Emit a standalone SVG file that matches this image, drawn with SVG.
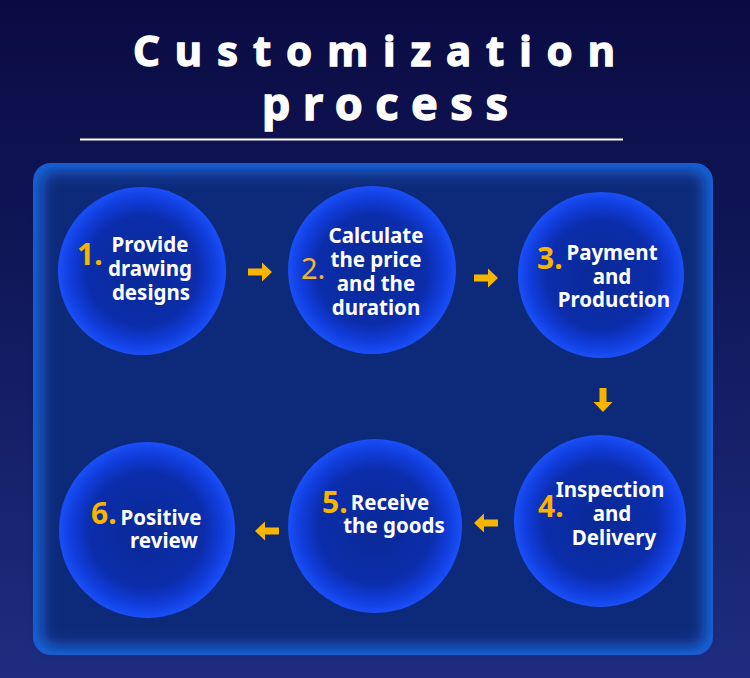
<svg xmlns="http://www.w3.org/2000/svg" width="750" height="678" viewBox="0 0 750 678">
<defs>
  <linearGradient id="bg" x1="0" y1="0" x2="0" y2="1">
    <stop offset="0" stop-color="#0b0b43"/>
    <stop offset="0.35" stop-color="#0f1656"/>
    <stop offset="1" stop-color="#1e2d80"/>
  </linearGradient>
  <radialGradient id="ball" cx="0.5" cy="0.5" r="0.5">
    <stop offset="0" stop-color="#0a2996"/>
    <stop offset="0.65" stop-color="#0b2daa"/>
    <stop offset="0.86" stop-color="#113ddc"/>
    <stop offset="1" stop-color="#1a4ff8"/>
  </radialGradient>
  <filter id="soft" x="-10%" y="-10%" width="120%" height="120%">
    <feGaussianBlur stdDeviation="7"/>
  </filter>
  <path id="arr" d="M-12,-3.5 H2 V-9.5 L12,0 L2,9.5 V3.5 H-12 Z" fill="#f7b500"/>
  <style>
    .t { font-family: "Noto Sans", "Open Sans", "DejaVu Sans", sans-serif; font-weight: bold; font-size: 20.5px; fill: #ffffff; text-anchor: middle; }
    .n { font-family: "Noto Sans", "Open Sans", "DejaVu Sans", sans-serif; font-weight: bold; font-size: 30px; fill: #f7b500; }
    .nr { font-family: "Noto Sans", "Open Sans", "DejaVu Sans", sans-serif; font-weight: normal; font-size: 29px; fill: #f5b52a; }
    .title { font-family: "Noto Sans", "Open Sans", "DejaVu Sans", sans-serif; font-weight: bold; fill: #ffffff; stroke: #ffffff; stroke-width: 1.3; }
  </style>
</defs>

<rect width="750" height="678" fill="url(#bg)"/>

<g id="title">
  <text class="title" x="133" y="66" font-size="42" textLength="482" lengthAdjust="spacing">Customization</text>
  <text class="title" x="262" y="120" font-size="45" textLength="246" lengthAdjust="spacing">process</text>
  <line x1="80" y1="139.5" x2="623" y2="139.5" stroke="#ffffff" stroke-width="2"/>
</g>

<g id="panel">
  <rect x="33" y="163" width="680" height="492" rx="18" fill="#1a62d6"/>
  <rect x="42" y="172" width="662" height="474" rx="12" fill="#082a7a" filter="url(#soft)"/>
</g>

<g id="node1">
  <circle cx="142" cy="271" r="84" fill="url(#ball)"/>
  <text class="n" x="77" y="265">1.</text>
  <text class="t" x="150" y="252">Provide</text>
  <text class="t" x="150" y="276">drawing</text>
  <text class="t" x="151" y="300">designs</text>
</g>

<g id="node2">
  <circle cx="372" cy="270" r="84" fill="url(#ball)"/>
  <text class="nr" x="301" y="279">2.</text>
  <text class="t" x="376" y="243">Calculate</text>
  <text class="t" x="376" y="267">the price</text>
  <text class="t" x="376" y="291">and the</text>
  <text class="t" x="376" y="315">duration</text>
</g>

<g id="node3">
  <circle cx="601" cy="275" r="83" fill="url(#ball)"/>
  <text class="n" x="537" y="269">3.</text>
  <text class="t" x="612" y="260">Payment</text>
  <text class="t" x="612" y="284">and</text>
  <text class="t" x="614" y="307">Production</text>
</g>

<g id="node4">
  <circle cx="600" cy="521" r="86" fill="url(#ball)"/>
  <text class="n" x="538" y="517">4.</text>
  <text class="t" x="610" y="497">Inspection</text>
  <text class="t" x="612" y="521">and</text>
  <text class="t" x="614" y="545">Delivery</text>
</g>

<g id="node5">
  <circle cx="375" cy="526" r="87" fill="url(#ball)"/>
  <text class="n" x="322" y="513">5.</text>
  <text class="t" x="390" y="510">Receive</text>
  <text class="t" x="394" y="533">the goods</text>
</g>

<g id="node6">
  <circle cx="147" cy="530" r="88" fill="url(#ball)"/>
  <text class="n" x="91" y="524">6.</text>
  <text class="t" x="161" y="525">Positive</text>
  <text class="t" x="164" y="548">review</text>
</g>

<g id="connectors">
  <use href="#arr" transform="translate(260,272)"/>
  <use href="#arr" transform="translate(486,278)"/>
  <use href="#arr" transform="translate(603,400) rotate(90)"/>
  <use href="#arr" transform="translate(486,523) rotate(180)"/>
  <use href="#arr" transform="translate(267,531) rotate(180)"/>
</g>
</svg>
